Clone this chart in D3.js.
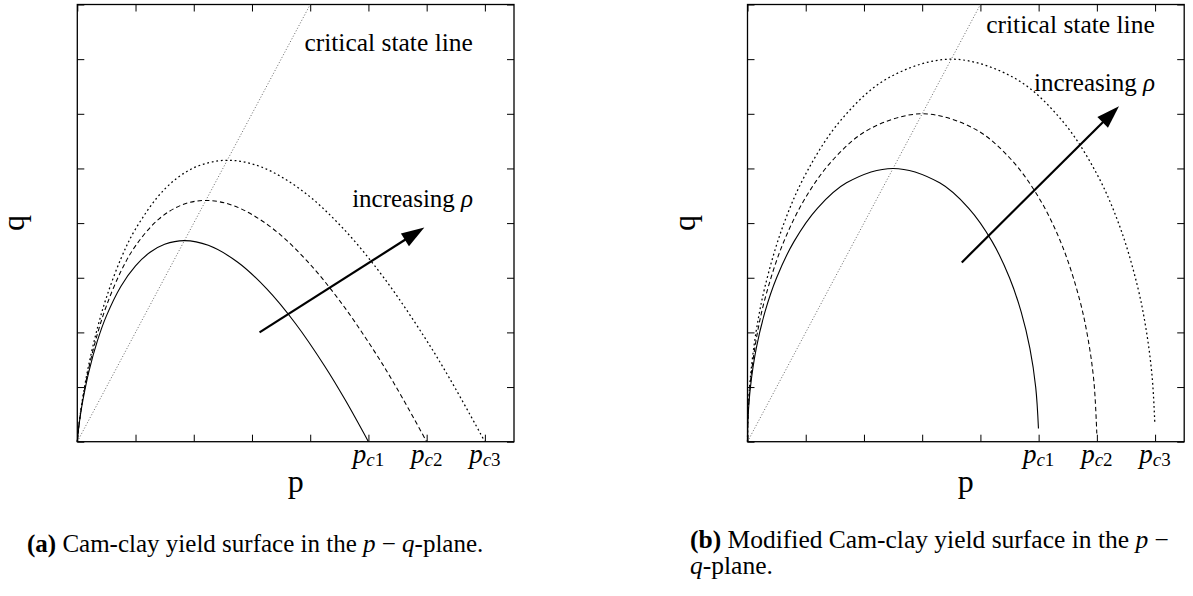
<!DOCTYPE html>
<html>
<head>
<meta charset="utf-8">
<script src="https://cdn.jsdelivr.net/npm/d3@7"></script>
<style>
  body { margin: 0; background: #fff; }
  svg { display: block; font-family: "Liberation Serif", "Times New Roman", serif; }
</style>
</head>
<body>
<script>
// axis ticks (p along x, q along y)
var pTicks = [0, 1, 2, 3, 4, 5, 6, 7];
var qTicks = [0, 1, 2, 3, 4, 5, 6, 7, 8];
var pcValues = [5, 6, 7];
var pcSubs = ["c1", "c2", "c3"];

// critical state line
var cslPoints = [[0, 0], [4, 8]];

// Cam-clay yield surfaces, [p, q]
var camSolid = [[0, 0], [0.01, 0.124], [0.02, 0.221], [0.05, 0.461], [0.1, 0.782], [0.2, 1.288], [0.35, 1.862],
  [0.5, 2.303], [0.75, 2.846], [1.0, 3.219], [1.25, 3.466], [1.5, 3.612], [1.84, 3.679], [2.25, 3.593],
  [2.75, 3.288], [3.25, 2.800], [3.75, 2.158], [4.25, 1.381], [4.6, 0.767], [5, 0]];
var camDashed = [[0, 0], [0.01, 0.128], [0.02, 0.228], [0.05, 0.479], [0.1, 0.819], [0.2, 1.360], [0.35, 1.989],
  [0.5, 2.485], [0.75, 3.119], [1.0, 3.584], [1.4, 4.074], [1.8, 4.334], [2.21, 4.415], [2.7, 4.312],
  [3.3, 3.946], [3.9, 3.360], [4.5, 2.589], [5.1, 1.658], [5.5, 0.957], [6, 0]];
var camDotted = [[0, 0], [0.01, 0.131], [0.02, 0.234], [0.05, 0.494], [0.1, 0.850], [0.2, 1.422], [0.35, 2.097],
  [0.5, 2.639], [0.75, 3.351], [1.0, 3.892], [1.5, 4.621], [2.0, 5.011], [2.575, 5.150], [3.15, 5.031],
  [3.85, 4.603], [4.55, 3.920], [5.25, 3.021], [5.95, 1.934], [6.4, 1.147], [7, 0]];

// Modified Cam-clay yield surfaces, [p, q]
var mccSolid = [[0, 0], [0.01, 0.447], [0.05, 0.995], [0.15, 1.706], [0.3, 2.375], [0.5, 3.0], [0.8, 3.666],
  [1.2, 4.271], [1.7, 4.737], [2.5, 5.0], [3.3, 4.737], [3.8, 4.271], [4.2, 3.666], [4.5, 3.0],
  [4.7, 2.375], [4.85, 1.706], [4.95, 0.995], [4.997, 0.24]];
var mccDashed = [[0, 0], [0.01, 0.489], [0.05, 1.091], [0.15, 1.873], [0.3, 2.615], [0.6, 3.6], [1.0, 4.472],
  [1.5, 5.196], [2.1, 5.724], [3.0, 6.0], [3.9, 5.724], [4.5, 5.196], [5.0, 4.472], [5.4, 3.6],
  [5.7, 2.615], [5.85, 1.873], [5.95, 1.091], [5.999, 0.15]];
var mccDotted = [[0, 0], [0.01, 0.529], [0.05, 1.179], [0.15, 2.027], [0.3, 2.835], [0.6, 3.919], [1.0, 4.899],
  [1.6, 5.879], [2.4, 6.645], [3.5, 7.0], [4.6, 6.645], [5.4, 5.879], [6.0, 4.899], [6.4, 3.919],
  [6.7, 2.835], [6.85, 2.027], [6.95, 1.179], [6.996, 0.32]];

// "increasing rho" arrows, [start, tip]
var camArrow = [[3.13, 2.0], [5.96, 3.92]];
var mccArrow = [[3.68, 3.28], [6.38, 6.14]];

var totalWidth = 1193;
var totalHeight = 596;
var plotWidth = 436.7;
var plotHeight = 437.2;
var tickLen = 7;

var svg = d3.select("body")
            .append("svg")
            .attr("width", totalWidth)
            .attr("height", totalHeight);

var dashes = ["none", "4.5,3", "1.8,2.8"];
var widths = [1.1, 1.05, 1.25];

function drawPanel(cfg) {
  var g = svg.append("g")
             .attr("transform", "translate(" + cfg.left + "," + cfg.top + ")");

  var xScale = d3.scaleLinear().domain([0, 7.5]).range([0, plotWidth]);
  var yScale = d3.scaleLinear().domain([0, 8]).range([plotHeight, 0]);

  // inward ticks on all four sides
  var axes = [
    [d3.axisBottom(xScale).tickValues(pTicks), "translate(0," + plotHeight + ")"],
    [d3.axisTop(xScale).tickValues(pTicks), "translate(0,0)"],
    [d3.axisLeft(yScale).tickValues(qTicks), "translate(0,0)"],
    [d3.axisRight(yScale).tickValues(qTicks), "translate(" + plotWidth + ",0)"]
  ];
  axes.forEach(function(a) {
    var ax = g.append("g")
              .attr("transform", a[1])
              .call(a[0].tickSize(-tickLen).tickFormat(""));
    ax.select(".domain").remove();
    ax.selectAll("line").attr("stroke", "#000").attr("stroke-width", 1);
  });

  g.append("rect")
   .attr("x", 0).attr("y", 0)
   .attr("width", plotWidth).attr("height", plotHeight)
   .attr("fill", "none").attr("stroke", "#000").attr("stroke-width", 1.3);

  // p_c tick labels
  pcValues.forEach(function(v, i) {
    var t = g.append("text")
             .attr("x", xScale(v))
             .attr("y", plotHeight + 21)
             .attr("text-anchor", "middle")
             .attr("font-size", 27);
    t.append("tspan").attr("font-style", "italic").text("p");
    t.append("tspan").attr("font-style", "italic").attr("font-size", 19).attr("dy", 3).text(pcSubs[i][0]);
    t.append("tspan").attr("font-size", 19).text(pcSubs[i][1]);
  });

  var line = d3.line()
               .x(function(d) { return xScale(d[0]); })
               .y(function(d) { return yScale(d[1]); });

  // critical state line
  g.append("path")
   .attr("d", line(cslPoints))
   .attr("fill", "none")
   .attr("stroke", "#555")
   .attr("stroke-width", 0.9)
   .attr("stroke-dasharray", "1,2");

  // yield surfaces
  var curve = d3.line()
                .x(function(d) { return xScale(d[0]); })
                .y(function(d) { return yScale(d[1]); })
                .curve(d3.curveCatmullRom.alpha(0.5));

  cfg.curves.forEach(function(c, i) {
    g.append("path")
     .attr("d", curve(c))
     .attr("fill", "none")
     .attr("stroke", "#000")
     .attr("stroke-width", widths[i])
     .attr("stroke-dasharray", dashes[i]);
  });

  // arrow
  var x1 = xScale(cfg.arrow[0][0]), y1 = yScale(cfg.arrow[0][1]);
  var x2 = xScale(cfg.arrow[1][0]), y2 = yScale(cfg.arrow[1][1]);
  var len = Math.sqrt((x2 - x1) * (x2 - x1) + (y2 - y1) * (y2 - y1));
  var ux = (x2 - x1) / len, uy = (y2 - y1) / len;
  var headLen = 23, headHalf = 7.5;
  var bx = x2 - ux * headLen, by = y2 - uy * headLen;
  g.append("line")
   .attr("x1", x1).attr("y1", y1)
   .attr("x2", bx + ux * 2).attr("y2", by + uy * 2)
   .attr("stroke", "#000").attr("stroke-width", 2.2);
  g.append("polygon")
   .attr("points", [[x2, y2], [bx - uy * headHalf, by + ux * headHalf], [bx + uy * headHalf, by - ux * headHalf]]
        .map(function(p) { return p.join(","); }).join(" "))
   .attr("fill", "#000");

  // annotations
  g.append("text")
   .attr("x", xScale(cfg.cslText[0]))
   .attr("y", yScale(cfg.cslText[1]))
   .attr("font-size", 25.5)
   .text("critical state line");

  var inc = g.append("text")
             .attr("x", xScale(cfg.incText[0]))
             .attr("y", yScale(cfg.incText[1]))
             .attr("font-size", 25)
             .style("white-space", "pre");
  inc.append("tspan").text("increasing ");
  inc.append("tspan").attr("font-style", "italic").text("ρ");

  // axis titles
  g.append("text")
   .attr("x", xScale(3.75))
   .attr("y", plotHeight + 50)
   .attr("text-anchor", "middle")
   .attr("font-size", 32)
   .text("p");

  g.append("text")
   .attr("transform", "translate(-53," + (plotHeight / 2) + ") rotate(-90)")
   .attr("text-anchor", "middle")
   .attr("font-size", 32)
   .text("q");
}

drawPanel({left: 77.3, top: 4.5, curves: [camSolid, camDashed, camDotted], arrow: camArrow,
           cslText: [3.90, 7.14], incText: [4.72, 4.29]});
drawPanel({left: 747.5, top: 4.5, curves: [mccSolid, mccDashed, mccDotted], arrow: mccArrow,
           cslText: [4.10, 7.48], incText: [4.92, 6.42]});

// captions
var capA = svg.append("text")
              .attr("x", 27).attr("y", 552)
              .attr("font-size", 25)
              .style("white-space", "pre");
capA.append("tspan").attr("font-weight", "bold").text("(a)");
capA.append("tspan").text(" Cam-clay yield surface in the ");
capA.append("tspan").attr("font-style", "italic").text("p");
capA.append("tspan").text(" − ");
capA.append("tspan").attr("font-style", "italic").text("q");
capA.append("tspan").text("-plane.");

var capB = svg.append("text")
              .attr("x", 690).attr("y", 548)
              .attr("font-size", 25.5)
              .style("white-space", "pre");
capB.append("tspan").attr("font-weight", "bold").text("(b)");
capB.append("tspan").text(" Modified Cam-clay yield surface in the ");
capB.append("tspan").attr("font-style", "italic").text("p");
capB.append("tspan").text(" −");

var capB2 = svg.append("text")
               .attr("x", 690).attr("y", 574)
               .attr("font-size", 25.5)
               .style("white-space", "pre");
capB2.append("tspan").attr("font-style", "italic").text("q");
capB2.append("tspan").text("-plane.");
</script>
</body>
</html>
